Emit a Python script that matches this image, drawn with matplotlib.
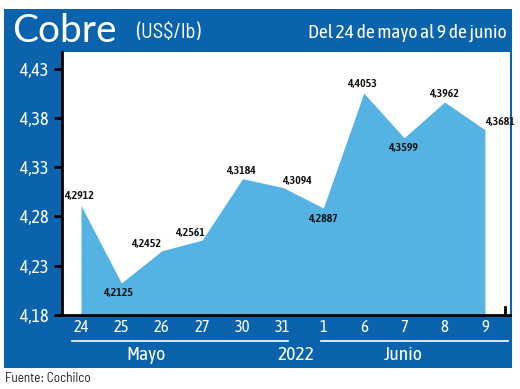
import matplotlib.pyplot as plt
from matplotlib.patches import Rectangle
from matplotlib.lines import Line2D

days = ['24', '25', '26', '27', '30', '31', '1', '6', '7', '8', '9']
prices = [4.2912, 4.2125, 4.2452, 4.2561, 4.3184, 4.3094, 4.2887, 4.4053, 4.3599, 4.3962, 4.3681]
yticks = [4.18, 4.23, 4.28, 4.33, 4.38, 4.43]
# label offsets in pixels from each point
offsets = [(-2, 10), (-3, -10), (-16, 7), (-12, 8), (-2, 8), (14, 7),
           (0, -11), (-2, 10), (-1, -10), (-1, 9), (15, 8)]

blue = '#0b63ae'
fill = '#55b3e3'
narrow = ['Asap Condensed', 'DejaVu Sans']
semi = ['Barlow Semi Condensed', 'DejaVu Sans']

W, H = 520, 389
fig = plt.figure(figsize=(W / 100, H / 100), dpi=100)
fig.patch.set_facecolor('white')

def fx(px):
    return px / W

def fy(py):
    return 1 - py / H

fig.patches.append(Rectangle((fx(4), fy(368)), fx(508), 359 / H, transform=fig.transFigure,
                             facecolor=blue, edgecolor='none', zorder=-5))

ax = fig.add_axes([fx(62), fy(315), fx(448), (315 - 52) / H])
ax.set_facecolor('white')
x = list(range(len(days)))
ax.fill_between(x, prices, 4.18, color=fill, lw=0)
ax.set_ylim(4.18, 4.447)
ax.set_xlim(-0.47, 10.62)

for i, (v, (dx, dy)) in enumerate(zip(prices, offsets)):
    ax.annotate(f'{v:.4f}'.replace('.', ','), (i, v), xytext=(dx, dy), textcoords='offset pixels',
                ha='center', va='center', fontsize=8.5, family=narrow, weight='semibold',
                color='#111111')

for s in ['top', 'right']:
    ax.spines[s].set_visible(False)
ax.spines['left'].set_linewidth(2)
ax.spines['bottom'].set_linewidth(2)
ax.set_yticks(yticks)
ax.set_yticklabels([f'{t:.2f}'.replace('.', ',') for t in yticks], color='white',
                   fontsize=13, family=narrow)
ax.tick_params(axis='y', length=6, width=2, pad=4)
ax.set_xticks(x)
ax.set_xticklabels(days, color='white', fontsize=12, family=narrow)
ax.tick_params(axis='x', length=0, pad=3)
ax.axvline(10.5, ymax=0.03, color='black', lw=2)

# month rules and labels
fig.add_artist(Line2D([fx(72), fx(288)], [fy(341), fy(341)], color='white', lw=1.2))
fig.add_artist(Line2D([fx(321), fx(508)], [fy(341), fy(341)], color='white', lw=1.2))
fig.text(fx(146), fy(355), 'Mayo', color='white', fontsize=14, ha='center', va='center', family=narrow)
fig.text(fx(296), fy(355), '2022', color='white', fontsize=14, ha='center', va='center', family=narrow)
fig.text(fx(403), fy(355), 'Junio', color='white', fontsize=14, ha='center', va='center', family=narrow)

# header
fig.text(fx(12), fy(31), 'Cobre', color='white', fontsize=28, ha='left', va='center',
         family=['Lato', 'DejaVu Sans'])
fig.text(fx(136), fy(33), '(US$/lb)', color='white', fontsize=15, ha='left', va='center',
         family=semi)
fig.text(fx(507), fy(33), 'Del 24 de mayo al 9 de junio', color='white', fontsize=14,
         ha='right', va='center', family=narrow)

fig.text(fx(5), fy(379), 'Fuente: Cochilco', color='#222222', fontsize=9.5, ha='left',
         va='center', family=semi)

fig.savefig('out.png', dpi=100)
